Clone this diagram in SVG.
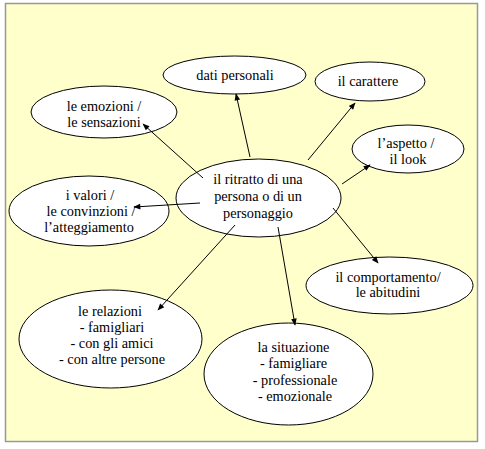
<svg xmlns="http://www.w3.org/2000/svg" width="485" height="449" viewBox="0 0 485 449">
<style>
.bg{fill:#FFFFCC;stroke:#999999;stroke-width:1.5}
.n ellipse{fill:#FFFFFF;stroke:#000000;stroke-width:1}
.n text{font-family:'Liberation Serif',serif;font-size:14.3px;fill:#000000;text-anchor:middle}
.c line{stroke:#000000;stroke-width:1;marker-end:url(#ah)}
</style>
<defs>
<marker id="ah" viewBox="0 0 10 10" refX="9" refY="5" markerWidth="8" markerHeight="7" markerUnits="userSpaceOnUse" orient="auto">
<path d="M0,1 L10,5 L0,9 Z" fill="#000000"/>
</marker>
</defs>
<rect class="bg" x="5.5" y="3.5" width="472" height="438"/>
<g id="dati" class="n">
<ellipse cx="234.5" cy="75" rx="71.5" ry="19"/>
<text x="235" y="80">dati personali</text>
</g>
<g id="carattere" class="n">
<ellipse cx="370" cy="81.5" rx="55" ry="19.5"/>
<text x="368" y="86">il carattere</text>
</g>
<g id="emozioni" class="n">
<ellipse cx="104" cy="112" rx="73" ry="26"/>
<text x="104" y="111">le emozioni /</text>
<text x="104" y="127">le sensazioni</text>
</g>
<g id="aspetto" class="n">
<ellipse cx="408" cy="149" rx="56" ry="24"/>
<text x="406" y="148">l’aspetto /</text>
<text x="408" y="164">il look</text>
</g>
<g id="centro" class="n">
<ellipse cx="258.5" cy="198" rx="82.5" ry="39"/>
<text x="258" y="184">il ritratto di una</text>
<text x="258" y="201">persona o di un</text>
<text x="258" y="217.5">personaggio</text>
</g>
<g id="valori" class="n">
<ellipse cx="89" cy="211" rx="80" ry="35"/>
<text x="90" y="200">i valori /</text>
<text x="91" y="216">le convinzioni /</text>
<text x="89" y="232">l’atteggiamento</text>
</g>
<g id="comportamento" class="n">
<ellipse cx="389.5" cy="285.5" rx="83.5" ry="28.5"/>
<text x="388" y="282">il comportamento/</text>
<text x="388" y="297">le abitudini</text>
</g>
<g id="relazioni" class="n">
<ellipse cx="110.5" cy="339" rx="91.5" ry="49"/>
<text x="110" y="316">le relazioni</text>
<text x="112" y="332">- famigliari</text>
<text x="112" y="348">- con gli amici</text>
<text x="112" y="364">- con altre persone</text>
</g>
<g id="situazione" class="n">
<ellipse cx="288.5" cy="374" rx="84.5" ry="51"/>
<text x="293.5" y="352">la situazione</text>
<text x="293.5" y="368">- famigliare</text>
<text x="295" y="385">- professionale</text>
<text x="295" y="401">- emozionale</text>
</g>
<g id="connectors" class="c">
<line x1="250" y1="157" x2="236" y2="94"/>
<line x1="308" y1="160" x2="355" y2="103"/>
<line x1="203" y1="178" x2="143" y2="124"/>
<line x1="342" y1="184" x2="370" y2="165"/>
<line x1="200" y1="203" x2="134" y2="207"/>
<line x1="333" y1="208" x2="378" y2="263"/>
<line x1="235" y1="225" x2="158" y2="310"/>
<line x1="278" y1="227" x2="295" y2="325"/>
</g>
</svg>
